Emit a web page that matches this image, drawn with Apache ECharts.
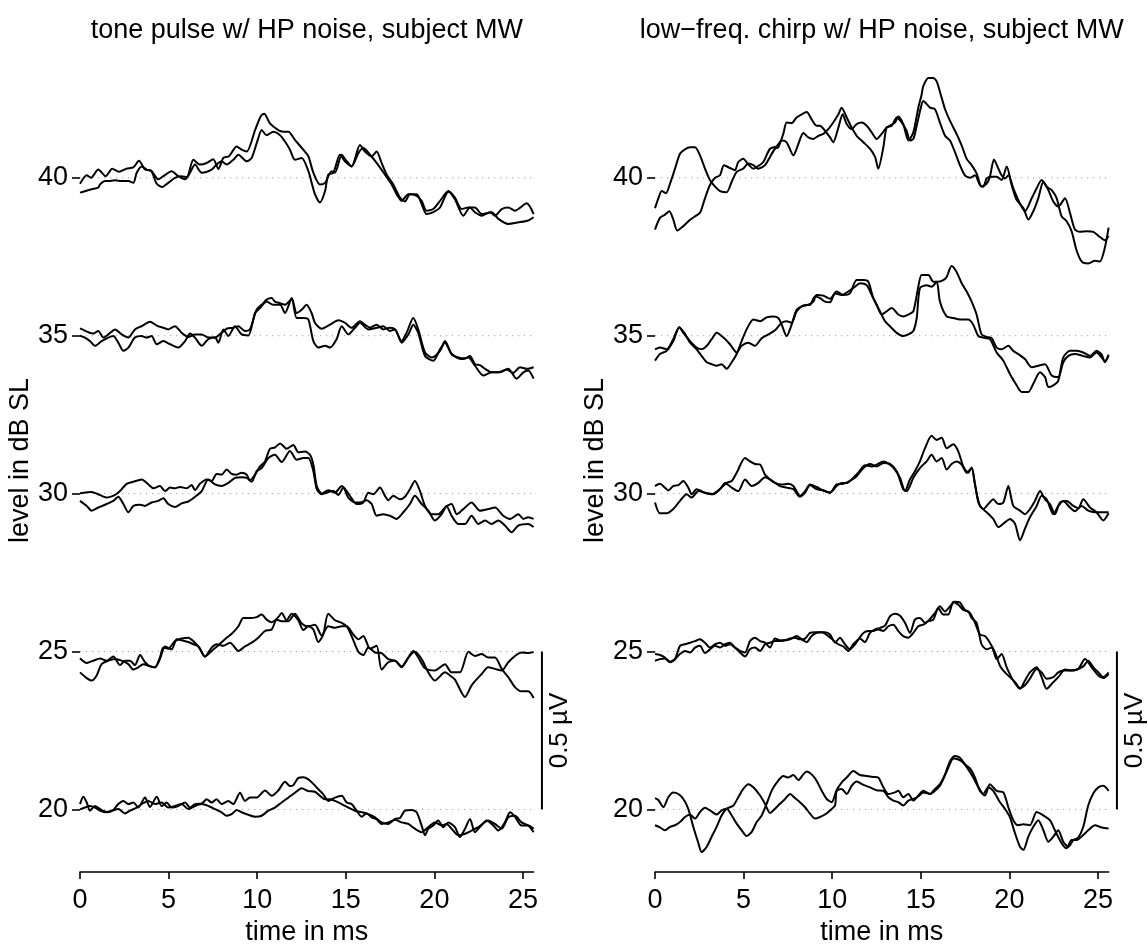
<!DOCTYPE html>
<html>
<head>
<meta charset="utf-8">
<script src="https://cdn.jsdelivr.net/npm/echarts@6.0.0/dist/echarts.min.js"></script>
<style>
  html, body { margin: 0; padding: 0; background: #fff; }
  #chart { width: 1148px; height: 951px; }
</style>
</head>
<body>
<div id="chart"></div>
<script>
// Averaged evoked responses, [time in ms, amplitude in µV], two replicates per level.
const levels = [40, 35, 30, 25, 20];
const timeTicks = [0, 5, 10, 15, 20, 25];
const levelTicks = [20, 25, 30, 35, 40];
const panelTitles = ['tone pulse w/ HP noise, subject MW', 'low\u2212freq. chirp w/ HP noise, subject MW'];

// ---- tone pulse ----
const tone40a = [[0,-0.019],[0.38,0.008],[0.62,0],[1.03,0.026],[1.45,0.005],[1.82,0.029],[2.2,0.019],[2.63,0.029],[3.01,0.033],[3.33,0.054],[3.67,0.026],[4.01,0.023],[4.33,-0.019],[4.65,-0.029],[4.98,-0.016],[5.36,0],[5.7,0.005],[6.02,0.002],[6.4,0.057],[6.77,0.042],[7.15,0.047],[7.52,0.059],[7.81,0.028],[8.09,0.063],[8.41,0.068],[8.84,0.099],[9.12,0.089],[9.41,0.083],[9.88,0.151],[10.21,0.196],[10.4,0.203],[10.72,0.172],[11.19,0.151],[11.47,0.146],[11.76,0.146],[12.13,0.120],[12.6,0.089],[12.89,0.068],[13.17,0.016],[13.54,-0.021],[13.83,-0.016],[14.2,0.021],[14.39,0.016],[14.77,0.073],[14.99,0.057],[15.33,0.036],[15.8,0.104],[16.08,0.083],[16.46,0.068],[16.74,0.083],[17.02,0.047],[17.31,0.010],[17.68,-0.021],[18.06,-0.063],[18.34,-0.075],[18.62,-0.052],[19.0,-0.057],[19.28,-0.073],[19.56,-0.104],[19.94,-0.099],[20.32,-0.073],[20.79,-0.042],[21.16,-0.063],[21.54,-0.099],[21.92,-0.094],[22.29,-0.094],[22.67,-0.115],[23.23,-0.109],[23.61,-0.130],[24.17,-0.146],[24.74,-0.141],[25.3,-0.135],[25.6,-0.125]];
const tone40b = [[0,-0.047],[0.66,-0.036],[1.03,-0.031],[1.13,-0.021],[1.41,-0.010],[1.6,-0.010],[1.98,-0.008],[2.35,-0.010],[2.73,-0.010],[3.01,-0.016],[3.2,0.016],[3.48,0.036],[3.76,0.026],[4.04,0.021],[4.42,-0.005],[4.7,0.005],[5.17,0.021],[5.55,0.005],[5.93,-0.005],[6.21,0.016],[6.49,0.042],[6.87,0.016],[7.43,0.026],[7.71,0.042],[7.99,0.052],[8.28,0.042],[8.65,0.057],[8.94,0.073],[9.41,0.052],[9.69,0.063],[10.06,0.125],[10.25,0.151],[10.53,0.135],[10.91,0.146],[11.29,0.135],[11.57,0.115],[11.85,0.089],[12.13,0.057],[12.51,0.063],[12.89,0.021],[13.26,-0.052],[13.54,-0.078],[13.83,-0.042],[14.01,0.010],[14.3,0.016],[14.67,0.073],[14.95,0.052],[15.33,0.036],[15.71,0.078],[15.99,0.094],[16.37,0.073],[16.74,0.047],[17.21,0.010],[17.59,-0.021],[17.87,-0.052],[18.15,-0.073],[18.53,-0.052],[19.0,-0.052],[19.28,-0.083],[19.56,-0.115],[19.94,-0.109],[20.32,-0.094],[20.79,-0.044],[21.16,-0.068],[21.63,-0.120],[22.01,-0.094],[22.29,-0.109],[22.67,-0.120],[23.14,-0.109],[23.42,-0.120],[23.8,-0.099],[24.17,-0.094],[24.55,-0.104],[25.21,-0.081],[25.6,-0.115]];
const tone35a = [[0,0.023],[0.47,0.011],[0.75,0.007],[1.03,0.015],[1.32,-0.006],[1.6,0.004],[1.98,0.020],[2.35,0.004],[2.73,-0.006],[3.1,0.020],[3.48,0.030],[3.95,0.044],[4.33,0.032],[4.7,0.025],[4.98,0.020],[5.36,0.030],[5.74,0.009],[6.11,-0.004],[6.49,0.004],[6.87,0.004],[7.24,-0.006],[7.62,-0.006],[7.99,0.009],[8.28,0.022],[8.65,0.025],[8.94,0.030],[9.31,0.015],[9.59,0.020],[9.97,0.082],[10.35,0.103],[10.53,0.114],[10.82,0.119],[11.0,0.108],[11.29,0.103],[11.57,0.098],[11.95,0.116],[12.23,0.072],[12.51,0.082],[12.79,0.098],[13.07,0.072],[13.26,0.041],[13.64,0.022],[14.11,0.035],[14.58,0.049],[14.95,0.041],[15.33,0.025],[15.8,0.046],[16.08,0.035],[16.37,0.025],[16.74,0.035],[17.12,0.020],[17.49,0.025],[17.78,0.020],[18.15,-0.017],[18.43,0.009],[18.81,0.056],[19.09,0.020],[19.47,-0.053],[19.85,-0.069],[20.32,-0.048],[20.6,-0.017],[20.97,-0.058],[21.35,-0.069],[21.73,-0.072],[22.01,-0.064],[22.29,-0.090],[22.57,-0.093],[22.86,-0.105],[23.23,-0.116],[23.61,-0.116],[24.08,-0.107],[24.45,-0.118],[24.83,-0.100],[25.21,-0.105],[25.6,-0.100]];
const tone35b = [[0,0],[0.28,-0.006],[0.56,-0.017],[0.85,-0.032],[1.22,-0.017],[1.6,-0.006],[1.88,-0.001],[2.16,-0.022],[2.45,-0.048],[2.73,-0.0375],[3.1,-0.006],[3.48,-0.001],[3.76,-0.006],[4.04,-0.001],[4.33,-0.027],[4.7,-0.017],[5.08,-0.027],[5.55,-0.0375],[5.93,-0.017],[6.21,0.007],[6.49,-0.006],[6.87,-0.032],[7.24,-0.011],[7.62,-0.006],[7.81,-0.022],[8.09,0.020],[8.37,-0.001],[8.75,0.030],[9.12,0.004],[9.5,0.001],[9.88,0.072],[10.16,0.0875],[10.53,0.108],[10.91,0.098],[11.29,0.098],[11.57,0.072],[11.95,0.119],[12.23,0.056],[12.6,0.056],[12.89,0.051],[13.17,-0.017],[13.45,-0.0375],[13.83,-0.032],[14.11,-0.0375],[14.48,-0.011],[14.77,0.030],[15.14,0.004],[15.52,0.025],[15.8,0.041],[16.27,0.020],[16.74,0.025],[17.12,0.030],[17.49,0.015],[17.78,0.020],[18.15,-0.022],[18.53,0.004],[18.81,0.035],[19.09,0.009],[19.47,-0.064],[19.94,-0.079],[20.32,-0.043],[20.6,-0.022],[20.97,-0.058],[21.54,-0.074],[21.92,-0.069],[22.29,-0.095],[22.76,-0.126],[23.23,-0.116],[23.7,-0.116],[24.17,-0.105],[24.64,-0.136],[25.02,-0.116],[25.3,-0.110],[25.6,-0.136]];
const tone30a = [[0,0.001],[0.66,0.005],[1.03,-0.002],[1.5,-0.0125],[1.98,-0.004],[2.26,0.008],[2.63,0.031],[3.01,0.0375],[3.48,0.045],[3.86,0.029],[4.14,0.017],[4.51,0.024],[4.8,0.008],[5.08,0.019],[5.36,0.017],[5.64,0.021],[6.02,0.017],[6.3,0.027],[6.49,0.011],[6.77,0.031],[7.15,0.045],[7.43,0.040],[7.71,0.0625],[7.99,0.060],[8.28,0.076],[8.56,0.0625],[8.84,0.060],[9.12,0.066],[9.41,0.060],[9.59,0.042],[9.88,0.060],[10.16,0.086],[10.44,0.102],[10.72,0.142],[11.0,0.146],[11.29,0.159],[11.66,0.142],[12.04,0.154],[12.32,0.131],[12.7,0.133],[12.98,0.123],[13.17,0.092],[13.36,0.024],[13.64,0],[14.01,0.011],[14.39,0.003],[14.77,0.024],[15.05,0.008],[15.33,-0.015],[15.61,-0.033],[15.99,-0.028],[16.27,0.003],[16.55,-0.002],[16.93,0.019],[17.21,-0.007],[17.4,-0.021],[17.68,-0.007],[18.06,-0.018],[18.34,-0.010],[18.62,0.014],[18.9,0.040],[19.19,0.008],[19.47,-0.039],[19.85,-0.065],[20.22,-0.065],[20.6,-0.044],[20.97,-0.033],[21.26,-0.065],[21.63,-0.049],[22.1,-0.028],[22.57,-0.054],[23.04,-0.049],[23.42,-0.044],[23.89,-0.070],[24.27,-0.080],[24.74,-0.065],[25.02,-0.080],[25.3,-0.075],[25.6,-0.080]];
const tone30b = [[0,-0.023],[0.38,-0.039],[0.66,-0.054],[1.03,-0.044],[1.5,-0.033],[1.88,-0.023],[2.16,-0.010],[2.45,-0.033],[2.73,-0.059],[3.01,-0.039],[3.39,-0.035],[3.67,-0.039],[4.04,-0.028],[4.42,-0.023],[4.7,-0.015],[4.98,-0.033],[5.36,-0.042],[5.74,-0.031],[6.11,-0.025],[6.49,-0.010],[6.87,0.008],[7.24,0.045],[7.62,0.029],[7.99,0.024],[8.37,0.034],[8.75,0.050],[9.12,0.052],[9.41,0.050],[9.69,0.0375],[9.97,0.071],[10.25,0.081],[10.63,0.1125],[11.0,0.123],[11.38,0.100],[11.85,0.135],[12.23,0.107],[12.6,0.1125],[12.89,0.1125],[13.17,0.071],[13.36,0.014],[13.64,-0.002],[13.92,0.003],[14.3,0.008],[14.58,-0.004],[14.86,0.019],[15.14,-0.0125],[15.52,-0.028],[15.8,-0.028],[16.18,-0.021],[16.46,-0.033],[16.74,-0.070],[17.12,-0.065],[17.49,-0.070],[17.87,-0.080],[18.25,-0.059],[18.62,-0.033],[18.9,-0.007],[19.28,-0.033],[19.66,-0.054],[20.03,-0.085],[20.41,-0.065],[20.69,-0.039],[20.97,-0.070],[21.35,-0.096],[21.73,-0.096],[22.1,-0.070],[22.48,-0.096],[22.86,-0.085],[23.23,-0.096],[23.61,-0.085],[23.98,-0.101],[24.36,-0.122],[24.74,-0.101],[25.3,-0.096],[25.6,-0.106]];
const tone25a = [[0,-0.021],[0.38,-0.036],[0.75,-0.029],[1.13,-0.022],[1.5,-0.029],[1.88,-0.016],[2.26,-0.043],[2.54,-0.029],[2.82,-0.029],[3.1,-0.043],[3.39,-0.011],[3.67,-0.034],[3.95,-0.047],[4.23,-0.050],[4.51,-0.019],[4.7,0.0125],[4.98,0.009],[5.36,0.033],[5.74,0.041],[6.11,0.044],[6.49,0.028],[6.77,0.009],[7.05,-0.016],[7.43,0.002],[7.81,0.020],[8.18,0.039],[8.56,0.056],[8.94,0.080],[9.22,0.106],[9.59,0.106],[9.97,0.109],[10.25,0.117],[10.53,0.101],[10.82,0.093],[11.19,0.109],[11.38,0.122],[11.66,0.099],[11.95,0.120],[12.32,0.099],[12.6,0.068],[12.89,0.080],[13.17,0.070],[13.45,0.030],[13.73,0.054],[14.01,0.120],[14.39,0.099],[14.77,0.091],[15.05,0.080],[15.33,0.049],[15.71,-0.001],[15.99,-0.011],[16.27,0.0125],[16.65,-0.003],[17.02,-0.005],[17.4,-0.024],[17.78,-0.029],[18.15,-0.047],[18.53,-0.019],[18.81,0.002],[19.09,-0.019],[19.47,-0.053],[20.03,-0.060],[20.6,-0.040],[20.97,-0.066],[21.44,-0.066],[21.92,-0.001],[22.29,-0.014],[22.67,-0.008],[23.04,-0.019],[23.42,-0.019],[23.8,-0.055],[24.17,-0.081],[24.55,-0.1125],[24.92,-0.126],[25.3,-0.126],[25.6,-0.147]];
const tone25b = [[0,-0.066],[0.38,-0.084],[0.66,-0.092],[0.94,-0.076],[1.22,-0.040],[1.6,-0.029],[1.98,-0.024],[2.35,-0.029],[2.73,-0.040],[3.01,-0.057],[3.29,-0.050],[3.57,-0.040],[3.86,-0.045],[4.23,-0.050],[4.51,-0.024],[4.8,0.016],[5.17,0.007],[5.46,0.039],[5.74,0.036],[6.11,0.030],[6.4,0.023],[6.68,0.016],[7.05,-0.016],[7.43,0.0125],[7.71,0.023],[8.09,0.018],[8.47,0.028],[8.94,0.002],[9.31,0.016],[9.69,0.028],[10.06,0.044],[10.44,0.065],[10.82,0.070],[11.1,0.101],[11.38,0.096],[11.76,0.096],[12.13,0.120],[12.51,0.089],[12.89,0.080],[13.26,0.085],[13.64,0.051],[14.01,0.080],[14.39,0.075],[14.77,0.080],[15.05,0.080],[15.43,0.054],[15.71,0.039],[15.99,0.049],[16.37,0.009],[16.74,0.018],[17.02,-0.057],[17.4,-0.034],[17.78,-0.029],[18.15,-0.050],[18.53,-0.019],[18.9,-0.001],[19.28,-0.024],[19.66,-0.066],[20.03,-0.092],[20.6,-0.066],[20.88,-0.076],[21.16,-0.089],[21.73,-0.144],[22.1,-0.107],[22.67,-0.071],[23.04,-0.050],[23.42,-0.055],[23.8,-0.060],[24.17,-0.034],[24.55,-0.014],[24.92,-0.003],[25.3,-0.005],[25.6,-0.001]];
const tone20a = [[0,0.017],[0.19,0.040],[0.38,0.022],[0.56,-0.004],[0.85,0.011],[1.22,-0.002],[1.6,-0.009],[1.88,-0.002],[2.16,0.017],[2.45,0.027],[2.73,0.017],[3.01,0.022],[3.29,0.006],[3.67,0.0375],[3.95,0.008],[4.33,0.040],[4.61,0.011],[4.89,0.022],[5.17,0.006],[5.55,0.011],[5.93,0.022],[6.21,0.006],[6.49,0.017],[6.87,0.019],[7.15,0.032],[7.43,0.022],[7.71,0.032],[7.99,0.017],[8.37,0.027],[8.65,0.017],[9.03,0.053],[9.31,0.027],[9.59,0.0375],[9.97,0.0375],[10.44,0.060],[10.82,0.043],[11.19,0.060],[11.57,0.0875],[11.85,0.074],[12.04,0.077],[12.32,0.100],[12.6,0.102],[12.89,0.095],[13.17,0.081],[13.45,0.064],[13.73,0.048],[14.01,0.027],[14.39,0.0375],[14.77,0.043],[15.05,0.022],[15.33,0.017],[15.61,-0.004],[15.9,-0.023],[16.18,-0.0125],[16.46,-0.025],[16.74,-0.030],[17.02,-0.041],[17.4,-0.046],[17.78,-0.030],[18.06,-0.027],[18.34,-0.004],[18.72,-0.002],[19.0,-0.009],[19.28,-0.051],[19.47,-0.082],[19.66,-0.061],[19.94,-0.051],[20.22,-0.035],[20.5,-0.056],[20.79,-0.041],[21.16,-0.056],[21.44,-0.0875],[21.73,-0.061],[22.01,-0.030],[22.29,-0.072],[22.57,-0.056],[22.95,-0.035],[23.33,-0.051],[23.61,-0.067],[23.98,-0.041],[24.27,-0.009],[24.55,-0.023],[24.92,-0.051],[25.3,-0.051],[25.6,-0.061]];
const tone20b = [[0,0],[0.28,0.006],[0.56,0.011],[0.85,0.006],[1.13,-0.004],[1.41,-0.009],[1.79,-0.004],[2.16,0.001],[2.54,-0.0125],[2.82,-0.004],[3.2,0.006],[3.48,0.017],[3.86,0.027],[4.23,0.017],[4.61,0.022],[4.98,0.006],[5.36,0.011],[5.74,0.017],[6.11,0.001],[6.49,0.011],[6.87,0.017],[7.24,0.011],[7.62,0.001],[7.99,-0.009],[8.28,-0.020],[8.56,-0.015],[8.84,-0.002],[9.12,-0.009],[9.5,-0.017],[9.88,-0.023],[10.25,-0.020],[10.63,-0.004],[11.0,0.006],[11.38,0.022],[11.76,0.0375],[12.13,0.053],[12.51,0.067],[12.89,0.058],[13.26,0.056],[13.54,0.043],[13.83,0.032],[14.11,0.032],[14.39,0.027],[14.77,0.017],[15.14,0.006],[15.52,-0.004],[15.9,-0.009],[16.27,-0.015],[16.65,-0.025],[17.02,-0.046],[17.4,-0.041],[17.78,-0.033],[18.15,-0.041],[18.53,-0.046],[18.9,-0.061],[19.28,-0.072],[19.66,-0.056],[20.03,-0.041],[20.41,-0.051],[20.69,-0.046],[20.97,-0.061],[21.35,-0.082],[21.73,-0.077],[22.1,-0.067],[22.48,-0.056],[23.04,-0.035],[23.42,-0.046],[23.8,-0.061],[24.17,-0.025],[24.55,-0.020],[24.92,-0.041],[25.3,-0.051],[25.6,-0.072]];

// ---- low-frequency chirp ----
const chirp40a = [[0,-0.096],[0.19,-0.065],[0.38,-0.042],[0.62,-0.049],[0.85,-0.018],[1.13,0.029],[1.41,0.076],[1.69,0.090],[1.98,0.097],[2.26,0.097],[2.54,0.071],[2.82,0.029],[3.1,-0.007],[3.39,-0.028],[3.67,-0.042],[4.04,-0.046],[4.33,-0.0125],[4.61,0.019],[4.98,0.029],[5.27,0.045],[5.55,0.040],[5.83,0.029],[6.21,0.040],[6.49,0.066],[6.77,0.092],[6.96,0.097],[7.24,0.139],[7.43,0.175],[7.71,0.173],[7.99,0.191],[8.28,0.201],[8.56,0.208],[8.84,0.185],[9.12,0.165],[9.31,0.165],[9.59,0.149],[9.88,0.128],[10.06,0.1125],[10.35,0.159],[10.59,0.201],[10.82,0.170],[11.1,0.154],[11.38,0.170],[11.66,0.175],[11.95,0.165],[12.23,0.144],[12.51,0.123],[12.79,0.139],[13.07,0.159],[13.26,0.165],[13.54,0.175],[13.73,0.194],[14.01,0.170],[14.3,0.118],[14.58,0.144],[14.86,0.222],[15.05,0.264],[15.14,0.290],[15.43,0.316],[15.71,0.316],[15.9,0.305],[16.18,0.253],[16.37,0.217],[16.65,0.180],[17.02,0.139],[17.31,0.102],[17.59,0.060],[17.87,0.040],[18.15,0.014],[18.43,-0.028],[18.72,-0.018],[18.9,0.003],[19.13,0.058],[19.38,0.029],[19.56,0.008],[19.75,-0.002],[19.94,0.008],[20.22,-0.033],[20.5,-0.070],[20.88,-0.106],[21.26,-0.065],[21.54,-0.033],[21.82,-0.007],[22.1,-0.028],[22.39,-0.039],[22.67,-0.065],[22.95,-0.122],[23.23,-0.1375],[23.51,-0.169],[23.8,-0.231],[24.08,-0.265],[24.45,-0.271],[24.83,-0.2625],[25.11,-0.265],[25.39,-0.221],[25.6,-0.158]];
const chirp40b = [[0,-0.164],[0.28,-0.127],[0.56,-0.117],[0.81,-0.106],[1.03,-0.132],[1.26,-0.167],[1.6,-0.153],[1.88,-0.138],[2.26,-0.122],[2.54,-0.111],[2.82,-0.065],[3.1,-0.023],[3.39,0],[3.67,0.008],[3.89,0.040],[4.23,0.031],[4.51,0.024],[4.7,0.050],[4.98,0.060],[5.27,0.042],[5.55,0.029],[5.83,0.0375],[6.11,0.050],[6.49,0.092],[6.87,0.100],[7.15,0.118],[7.43,0.1125],[7.81,0.071],[8.09,0.107],[8.37,0.142],[8.65,0.128],[8.94,0.123],[9.22,0.133],[9.5,0.139],[9.78,0.154],[10.06,0.175],[10.35,0.201],[10.53,0.222],[10.82,0.191],[11.1,0.159],[11.38,0.133],[11.76,0.1125],[12.13,0.092],[12.42,0.066],[12.6,0.029],[12.89,0.097],[13.07,0.159],[13.36,0.165],[13.64,0.191],[13.92,0.175],[14.2,0.149],[14.39,0.118],[14.58,0.123],[14.77,0.165],[14.99,0.219],[15.14,0.243],[15.52,0.222],[15.8,0.217],[16.08,0.175],[16.37,0.133],[16.65,0.118],[16.93,0.081],[17.21,0.040],[17.49,0.008],[17.78,0],[18.06,0.008],[18.34,-0.023],[18.53,-0.028],[18.72,-0.002],[19.0,0.003],[19.28,0.003],[19.56,-0.007],[19.85,0.036],[20.13,-0.023],[20.41,-0.070],[20.79,-0.096],[21.07,-0.132],[21.35,-0.106],[21.63,-0.065],[21.92,-0.0125],[22.2,-0.039],[22.48,-0.075],[22.76,-0.091],[23.14,-0.065],[23.42,-0.111],[23.7,-0.164],[23.98,-0.171],[24.36,-0.169],[24.74,-0.171],[25.11,-0.1875],[25.39,-0.198],[25.6,-0.184]];
const chirp35a = [[0,-0.079],[0.28,-0.058],[0.66,-0.048],[1.03,-0.017],[1.37,0.027],[1.6,0.009],[1.98,-0.017],[2.35,-0.0375],[2.63,-0.043],[2.92,-0.032],[3.2,-0.011],[3.48,0.009],[3.86,-0.006],[4.23,-0.027],[4.61,-0.053],[4.89,-0.032],[5.27,-0.022],[5.64,-0.032],[6.02,-0.008],[6.4,0.004],[6.77,0.017],[7.15,0.041],[7.43,0.046],[7.71,0.041],[7.99,0.077],[8.37,0.096],[8.75,0.098],[9.03,0.124],[9.31,0.119],[9.59,0.108],[9.88,0.106],[10.16,0.134],[10.53,0.129],[10.91,0.140],[11.29,0.155],[11.57,0.166],[11.95,0.160],[12.23,0.129],[12.51,0.098],[12.79,0.067],[13.07,0.077],[13.36,0.0875],[13.73,0.067],[14.01,0.061],[14.3,0.067],[14.58,0.077],[14.86,0.155],[15.05,0.192],[15.43,0.192],[15.71,0.171],[15.99,0.171],[16.27,0.176],[16.46,0.186],[16.74,0.221],[17.02,0.202],[17.31,0.166],[17.59,0.140],[17.87,0.108],[18.15,0.067],[18.43,0.004],[18.72,-0.004],[19.0,-0.008],[19.28,-0.0375],[19.56,-0.043],[19.94,-0.032],[20.22,-0.048],[20.5,-0.058],[20.88,-0.074],[21.26,-0.100],[21.63,-0.095],[22.01,-0.090],[22.39,-0.126],[22.76,-0.131],[23.04,-0.084],[23.33,-0.064],[23.7,-0.058],[24.17,-0.064],[24.55,-0.069],[24.92,-0.053],[25.21,-0.069],[25.39,-0.081],[25.6,-0.064]];
const chirp35b = [[0,-0.043],[0.28,-0.0375],[0.66,-0.043],[1.03,-0.011],[1.37,0.027],[1.69,0.006],[1.98,-0.022],[2.35,-0.043],[2.63,-0.064],[2.92,-0.084],[3.2,-0.090],[3.48,-0.095],[3.76,-0.090],[4.04,-0.105],[4.33,-0.084],[4.61,-0.058],[4.89,-0.017],[5.17,0.020],[5.55,0.051],[5.93,0.046],[6.3,0.058],[6.68,0.061],[6.96,0.056],[7.15,0.035],[7.43,-0.001],[7.71,0.035],[7.99,0.082],[8.28,0.093],[8.65,0.098],[8.94,0.108],[9.12,0.129],[9.5,0.127],[9.88,0.117],[10.25,0.140],[10.63,0.129],[11.0,0.134],[11.38,0.176],[11.76,0.176],[12.04,0.171],[12.32,0.119],[12.7,0.077],[12.98,0.046],[13.26,0.030],[13.64,0.009],[14.01,-0.001],[14.3,0.004],[14.58,0.015],[14.77,0.056],[14.95,0.150],[15.33,0.160],[15.61,0.155],[15.9,0.171],[16.08,0.108],[16.46,0.061],[16.84,0.056],[17.21,0.051],[17.68,0.051],[17.96,0.035],[18.25,-0.001],[18.53,-0.006],[18.9,-0.011],[19.28,-0.053],[19.66,-0.079],[20.03,-0.121],[20.41,-0.157],[20.69,-0.178],[21.07,-0.178],[21.35,-0.152],[21.73,-0.116],[22.01,-0.131],[22.2,-0.1625],[22.48,-0.157],[22.76,-0.142],[23.04,-0.069],[23.42,-0.048],[23.8,-0.048],[24.17,-0.053],[24.55,-0.064],[24.92,-0.048],[25.21,-0.060],[25.39,-0.084],[25.6,-0.060]];
const chirp30a = [[0,0.024],[0.28,0.031],[0.56,0.019],[0.75,0.010],[1.03,0.024],[1.32,0.027],[1.6,0.040],[1.88,0.019],[2.07,-0.002],[2.35,0.014],[2.63,0.008],[2.92,0],[3.2,-0.002],[3.48,0.006],[3.76,0.019],[4.04,0.034],[4.33,0.040],[4.61,0.066],[5.08,0.1125],[5.36,0.102],[5.64,0.094],[5.93,0.092],[6.21,0.060],[6.49,0.045],[6.77,0.034],[7.15,0.029],[7.52,0.031],[7.81,0.024],[8.18,-0.007],[8.47,0.008],[8.75,0.029],[9.12,0.021],[9.5,0.010],[9.88,0.003],[10.25,0.024],[10.53,0.034],[10.82,0.034],[11.1,0.045],[11.47,0.066],[11.85,0.090],[12.23,0.086],[12.51,0.092],[12.89,0.102],[13.26,0.092],[13.54,0.076],[13.83,0.050],[14.11,0.008],[14.39,0.045],[14.67,0.071],[14.95,0.102],[15.24,0.144],[15.61,0.183],[15.9,0.170],[16.18,0.177],[16.46,0.144],[16.84,0.156],[17.12,0.133],[17.4,0.086],[17.68,0.066],[17.87,0.083],[18.06,0.029],[18.25,-0.028],[18.53,-0.049],[18.81,-0.033],[19.09,-0.018],[19.38,-0.033],[19.66,-0.028],[19.94,0.024],[20.22,-0.039],[20.6,-0.054],[20.88,-0.065],[21.16,-0.049],[21.44,-0.023],[21.73,0.008],[22.01,-0.018],[22.29,-0.033],[22.57,-0.065],[22.86,-0.028],[23.23,-0.023],[23.61,-0.039],[23.89,-0.046],[24.17,-0.018],[24.55,-0.044],[24.92,-0.059],[25.3,-0.085],[25.6,-0.0625]];
const chirp30b = [[0,-0.028],[0.28,-0.0625],[0.66,-0.0625],[1.03,-0.049],[1.41,-0.023],[1.79,-0.002],[2.07,-0.0125],[2.45,0.008],[2.82,0.003],[3.29,-0.002],[3.67,0.014],[3.95,0.034],[4.33,0.019],[4.7,0.008],[5.08,0.045],[5.46,0.024],[5.83,0.034],[6.21,0.052],[6.58,0.042],[7.05,0.024],[7.43,0.019],[7.81,0.014],[8.18,-0.010],[8.47,0.003],[8.75,0.027],[9.12,0.014],[9.5,0.010],[9.88,0.003],[10.25,0.029],[10.63,0.031],[11.0,0.040],[11.38,0.055],[11.76,0.081],[12.13,0.094],[12.51,0.086],[12.89,0.097],[13.26,0.094],[13.64,0.071],[14.01,0.014],[14.2,0.008],[14.58,0.050],[14.95,0.081],[15.33,0.102],[15.61,0.123],[15.9,0.102],[16.18,0.1125],[16.46,0.076],[16.74,0.094],[17.02,0.102],[17.31,0.092],[17.59,0.066],[17.87,0.081],[18.06,0.029],[18.34,-0.039],[18.72,-0.059],[19.09,-0.080],[19.38,-0.106],[19.75,-0.091],[20.03,-0.080],[20.32,-0.096],[20.6,-0.148],[20.88,-0.111],[21.16,-0.075],[21.54,-0.039],[21.82,-0.007],[22.1,-0.018],[22.48,-0.065],[22.76,-0.039],[23.04,-0.023],[23.42,-0.044],[23.7,-0.056],[24.08,-0.039],[24.45,-0.054],[24.83,-0.059],[25.21,-0.059],[25.6,-0.059]];
const chirp25a = [[0,-0.008],[0.28,-0.011],[0.56,-0.019],[0.85,-0.032],[1.13,-0.024],[1.41,-0.008],[1.69,0.002],[1.98,-0.003],[2.26,0.0125],[2.54,0.018],[2.82,-0.005],[3.1,0.007],[3.39,0.018],[3.67,0.0125],[3.95,0.023],[4.23,0.028],[4.51,0.0125],[4.8,-0.003],[5.08,-0.016],[5.36,0.007],[5.64,0.0125],[5.93,0.002],[6.21,0.023],[6.49,0.028],[6.77,0.033],[7.05,0.033],[7.34,0.036],[7.62,0.041],[7.9,0.044],[8.18,0.0385],[8.47,0.041],[8.75,0.059],[9.03,0.061],[9.31,0.061],[9.59,0.061],[9.88,0.054],[10.16,0.028],[10.44,0.044],[10.72,0.023],[11.0,0.007],[11.29,0.023],[11.57,0.041],[11.85,0.030],[12.13,0.059],[12.42,0.070],[12.7,0.075],[12.98,0.082],[13.26,0.111],[13.54,0.120],[13.83,0.1135],[14.11,0.091],[14.39,0.059],[14.67,0.101],[14.95,0.106],[15.24,0.091],[15.52,0.103],[15.8,0.122],[16.08,0.143],[16.37,0.127],[16.65,0.143],[16.93,0.158],[17.21,0.155],[17.49,0.132],[17.78,0.122],[18.06,0.091],[18.34,0.054],[18.62,0.049],[18.9,0.028],[19.19,-0.003],[19.47,-0.045],[19.75,-0.066],[20.03,-0.081],[20.32,-0.097],[20.6,-0.116],[20.88,-0.107],[21.16,-0.086],[21.54,-0.055],[21.82,-0.066],[22.1,-0.086],[22.48,-0.081],[22.76,-0.066],[23.04,-0.060],[23.42,-0.060],[23.8,-0.057],[24.17,-0.047],[24.45,-0.029],[24.74,-0.050],[25.02,-0.066],[25.3,-0.081],[25.6,-0.066]];
const chirp25b = [[0,-0.029],[0.28,-0.024],[0.56,-0.022],[0.85,-0.034],[1.13,-0.024],[1.41,0.018],[1.69,0.023],[1.98,0.028],[2.26,0.033],[2.54,0.0385],[2.82,0.028],[3.1,0.0125],[3.39,0.023],[3.67,0.028],[3.95,0.018],[4.23,0.023],[4.51,0.0125],[4.8,0.002],[5.08,-0.003],[5.36,0.033],[5.64,0.044],[5.93,0.033],[6.21,0.028],[6.49,0.0125],[6.77,0.041],[7.05,0.036],[7.34,0.036],[7.62,0.0385],[7.99,0.049],[8.28,0.0385],[8.56,0.030],[8.84,0.049],[9.12,0.059],[9.41,0.061],[9.78,0.049],[10.06,0.036],[10.35,0.023],[10.63,0.016],[10.91,0.002],[11.19,0.023],[11.47,0.0385],[11.76,0.059],[12.04,0.065],[12.32,0.065],[12.6,0.070],[12.89,0.065],[13.17,0.080],[13.45,0.085],[13.73,0.065],[14.01,0.049],[14.3,0.044],[14.58,0.059],[14.86,0.080],[15.14,0.085],[15.43,0.096],[15.71,0.101],[15.99,0.1375],[16.27,0.117],[16.55,0.117],[16.84,0.158],[17.12,0.148],[17.4,0.132],[17.68,0.127],[17.87,0.106],[18.15,0.091],[18.43,0.023],[18.72,0.007],[19.0,0.0125],[19.28,-0.024],[19.56,-0.008],[19.85,-0.050],[20.22,-0.092],[20.6,-0.118],[20.88,-0.092],[21.16,-0.066],[21.54,-0.050],[21.82,-0.081],[22.1,-0.118],[22.48,-0.097],[22.76,-0.081],[23.14,-0.057],[23.51,-0.060],[23.89,-0.055],[24.27,-0.024],[24.64,-0.050],[25.02,-0.076],[25.3,-0.084],[25.6,-0.071]];
const chirp20a = [[0,0.036],[0.19,0.030],[0.47,0.007],[0.75,0.0385],[1.03,0.054],[1.32,0.049],[1.6,0.033],[1.88,0.002],[2.16,-0.055],[2.45,-0.107],[2.63,-0.135],[2.92,-0.118],[3.2,-0.086],[3.48,-0.055],[3.76,-0.019],[4.04,0.002],[4.42,0.0125],[4.7,0.0385],[4.98,0.065],[5.27,0.080],[5.55,0.070],[5.93,0.044],[6.21,0.018],[6.49,-0.011],[6.77,0.002],[7.05,0.018],[7.34,0.033],[7.62,0.049],[7.9,0.036],[8.18,0.023],[8.47,0.007],[8.75,-0.0135],[9.03,-0.029],[9.31,-0.024],[9.59,-0.016],[9.88,-0.003],[10.16,0.0125],[10.25,0.059],[10.53,0.065],[10.82,0.049],[11.1,0.075],[11.38,0.0885],[11.76,0.078],[12.13,0.070],[12.51,0.061],[12.89,0.059],[13.17,0.0385],[13.45,0.028],[13.73,0.023],[14.01,0.0125],[14.3,0.028],[14.58,0.033],[14.86,0.041],[15.14,0.054],[15.52,0.049],[15.8,0.059],[16.08,0.075],[16.27,0.096],[16.55,0.132],[16.84,0.161],[17.12,0.158],[17.4,0.148],[17.68,0.127],[17.96,0.101],[18.25,0.070],[18.53,0.049],[18.81,0.070],[19.09,0.059],[19.47,0.023],[19.75,0.002],[20.03,-0.024],[20.32,-0.076],[20.6,-0.118],[20.79,-0.128],[21.07,-0.086],[21.35,-0.055],[21.63,-0.034],[21.92,-0.066],[22.2,-0.102],[22.48,-0.086],[22.76,-0.066],[23.04,-0.102],[23.33,-0.118],[23.61,-0.097],[23.89,-0.089],[24.17,-0.055],[24.45,0.0125],[24.74,0.051],[25.02,0.070],[25.3,0.075],[25.6,0.059]];
const chirp20b = [[0,-0.050],[0.28,-0.057],[0.56,-0.066],[0.85,-0.055],[1.13,-0.050],[1.41,-0.040],[1.69,-0.024],[1.98,-0.016],[2.26,-0.029],[2.54,-0.008],[2.82,0.005],[3.1,-0.003],[3.48,-0.016],[3.76,-0.003],[4.04,0.002],[4.33,-0.019],[4.61,-0.045],[4.89,-0.066],[5.17,-0.084],[5.46,-0.071],[5.74,-0.040],[6.02,-0.019],[6.3,0.018],[6.58,0.059],[6.87,0.085],[7.24,0.106],[7.52,0.101],[7.81,0.109],[8.09,0.093],[8.37,0.111],[8.56,0.120],[8.84,0.111],[9.12,0.091],[9.41,0.059],[9.69,0.033],[9.97,0.023],[10.25,0.061],[10.53,0.085],[10.82,0.101],[11.19,0.122],[11.57,0.109],[11.95,0.106],[12.32,0.103],[12.6,0.101],[12.89,0.070],[13.17,0.049],[13.54,0.054],[13.73,0.059],[14.01,0.0385],[14.3,0.049],[14.58,0.028],[14.86,0.044],[15.14,0.059],[15.52,0.049],[15.8,0.065],[16.08,0.080],[16.37,0.111],[16.65,0.153],[16.93,0.169],[17.21,0.1635],[17.49,0.143],[17.78,0.130],[18.06,0.101],[18.34,0.059],[18.62,0.044],[18.9,0.080],[19.28,0.059],[19.66,0.054],[19.94,0.007],[20.22,-0.034],[20.5,-0.050],[20.79,-0.047],[21.16,-0.050],[21.54,-0.008],[21.92,-0.019],[22.29,-0.034],[22.57,-0.066],[22.95,-0.107],[23.23,-0.123],[23.51,-0.097],[23.8,-0.097],[24.17,-0.081],[24.45,-0.066],[24.83,-0.050],[25.21,-0.057],[25.6,-0.060]];

// Which replicate pair sits on which level row.
const tonePanel  = [[40, tone40a, tone40b], [35, tone35a, tone35b], [30, tone30a, tone30b], [25, tone25a, tone25b], [20, tone20a, tone20b]];
const chirpPanel = [[40, chirp40a, chirp40b], [35, chirp35a, chirp35b], [30, chirp30a, chirp30b], [25, chirp25a, chirp25b], [20, chirp20a, chirp20b]];

const SCALE_UV = 0.5;          // size of the amplitude scale bar
const UV_TO_DB = 10;           // 0.5 µV spans 5 dB of the level axis
const T_END = 25.6;            // record length in ms
const SCALE_BAR_T = 26.07;     // bar sits just right of the traces
const SCALE_LABEL_T = 27.1;
const FONT = '"Liberation Sans", Arial, Helvetica, sans-serif';
const TEXT_SIZE = 27;

const GRID_LEFT = [80, 655];
const GRID_W = 453.6;
const GRID_TOP = 49;
const GRID_H = 834;
const Y_MIN = 18.016, Y_MAX = 44.078;

const chart = echarts.init(document.getElementById('chart'), null, { renderer: 'canvas' });

function panelSeries(idx, rows) {
  const out = [];
  // dotted baselines, one per level
  levels.forEach(l => out.push({
    type: 'line', xAxisIndex: idx, yAxisIndex: idx, silent: true, symbol: 'none', z: 1,
    data: [[0, l], [T_END, l]],
    lineStyle: { color: '#a0a0a0', width: 1, type: [1.2, 4.8] }
  }));
  rows.forEach(([lvl, a, b]) => {
    [a, b].forEach(tr => out.push({
      type: 'line', xAxisIndex: idx, yAxisIndex: idx, silent: true, symbol: 'none', z: 3,
      smooth: 0.25, clip: false,
      data: tr.map(([t, v]) => [t, lvl + v * UV_TO_DB]),
      lineStyle: { color: '#000', width: 2 }
    }));
  });
  return out;
}

function xAxisCfg(idx) {
  return {
    type: 'value', gridIndex: idx, min: 0, max: T_END,
    name: 'time in ms', nameLocation: 'middle', nameGap: 42,
    nameTextStyle: { fontFamily: FONT, fontSize: TEXT_SIZE, color: '#000' },
    axisLine: { show: true, lineStyle: { color: '#000', width: 1.6 } },
    axisTick: { show: true, customValues: timeTicks, length: 7, lineStyle: { color: '#000', width: 1.6 } },
    axisLabel: { customValues: timeTicks, fontFamily: FONT, fontSize: TEXT_SIZE, color: '#000', margin: 15 },
    splitLine: { show: false }
  };
}

function yAxisCfg(idx) {
  return {
    type: 'value', gridIndex: idx, min: Y_MIN, max: Y_MAX,
    name: 'level in dB SL', nameLocation: 'middle', nameGap: 42,
    nameTextStyle: { fontFamily: FONT, fontSize: TEXT_SIZE, color: '#000' },
    axisLine: { show: false },
    axisTick: { show: true, customValues: levelTicks, length: 8, lineStyle: { color: '#000', width: 1.6 } },
    axisLabel: { customValues: levelTicks, fontFamily: FONT, fontSize: TEXT_SIZE, color: '#000', margin: 12 },
    splitLine: { show: false }
  };
}

chart.setOption({
  animation: false,
  backgroundColor: '#fff',
  grid: GRID_LEFT.map(l => ({ left: l, top: GRID_TOP, width: GRID_W, height: GRID_H, containLabel: false })),
  xAxis: [xAxisCfg(0), xAxisCfg(1)],
  yAxis: [yAxisCfg(0), yAxisCfg(1)],
  series: [...panelSeries(0, tonePanel), ...panelSeries(1, chirpPanel)]
});

// Titles, plus the amplitude scale bar placed through each panel's own axes.
const overlay = [];
[0, 1].forEach(i => {
  overlay.push({
    type: 'text', x: GRID_LEFT[i] + GRID_W / 2, y: 31, silent: true,
    style: { text: panelTitles[i], fontFamily: FONT, fontSize: TEXT_SIZE, fill: '#000', align: 'center', verticalAlign: 'middle' }
  });
  const lo = chart.convertToPixel({ gridIndex: i }, [SCALE_BAR_T, 20]);
  const hi = chart.convertToPixel({ gridIndex: i }, [SCALE_BAR_T, 20 + SCALE_UV * UV_TO_DB]);
  const mid = chart.convertToPixel({ gridIndex: i }, [SCALE_LABEL_T, 20 + SCALE_UV * UV_TO_DB / 2]);
  overlay.push({
    type: 'line', silent: true,
    shape: { x1: lo[0], y1: lo[1], x2: hi[0], y2: hi[1] },
    style: { stroke: '#000', lineWidth: 2 }
  });
  overlay.push({
    type: 'text', x: mid[0], y: mid[1], rotation: Math.PI / 2, silent: true,
    style: { text: SCALE_UV + ' \u00b5V', fontFamily: FONT, fontSize: 26, fill: '#000', align: 'center', verticalAlign: 'middle' }
  });
});
chart.setOption({ graphic: overlay });
</script>
</body>
</html>
